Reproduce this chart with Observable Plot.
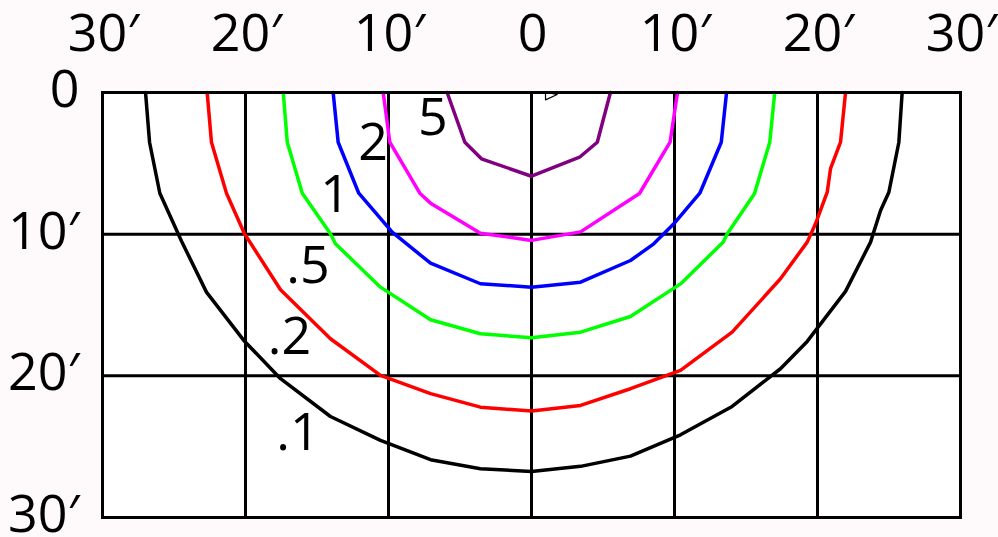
<!DOCTYPE html>
<html><head><meta charset="utf-8">
<script src="https://cdn.jsdelivr.net/npm/d3@7"></script>
<script src="https://cdn.jsdelivr.net/npm/@observablehq/plot@0.6"></script>
<style>html,body{margin:0;padding:0;background:#fefafc;} svg{display:block}</style>
</head><body><div id="chart"></div>
<script>
// Axis ticks (arc-minutes)
const xTicks = [-30, -20, -10, 0, 10, 20, 30];
const xTickLabels = ["30′", "20′", "10′", "0", "10′", "20′", "30′"];
const yTicks = [0, 10, 20, 30];
const yTickLabels = ["0", "10′", "20′", "30′"];
const gridXValues = [-20, -10, 0, 10, 20];
const gridYValues = [10, 20];

// Contour levels
const levels = [".1", ".2", ".5", "1", "2", "5"];

// Contour .1
const c01X = [-26.99,-26.71,-25.99,-24.48,-22.73,-20.12,-17.55,-14.06,-10.56,-7.06,-3.57,0,3.43,6.92,10.42,14.03,17.41,19.28,21.96,23.71,24.41,24.99,25.69,25.92];
const c01Y = [0,3.51,7.11,10.48,14.09,17.5,20.2,22.87,24.56,25.92,26.56,26.75,26.39,25.67,24.16,22.16,19.5,17.57,14.04,10.56,8.33,7.04,3.51,0];
// Contour .2
const c02X = [-22.68,-22.38,-21.33,-20.07,-17.55,-14.06,-10.56,-7.06,-3.57,0,3.43,6.92,10.42,14.03,17.41,19.28,19.86,20.68,20.91,21.61,21.96];
const c02Y = [0,3.51,7.11,9.97,13.92,17.38,19.97,21.26,22.21,22.49,22.09,20.91,19.62,16.92,13.15,10.56,9.27,7.04,5.38,3.51,0];
// Contour .5
const c05X = [-17.36,-17.08,-16.03,-14.06,-13.71,-10.56,-7.06,-3.57,0,3.43,6.92,10.42,13.41,13.69,15.59,16.66,17.01];
const c05Y = [0,3.51,7.11,9.97,10.68,13.74,16.04,17.03,17.31,16.92,15.81,13.51,10.56,9.97,7.15,3.51,0];
// Contour 1
const c1X = [-13.87,-13.52,-12.08,-9.74,-7.06,-3.57,0,3.43,6.92,8.55,9.95,11.77,13.27,13.64];
const c1Y = [0,3.51,7.11,9.86,12.05,13.5,13.74,13.39,11.86,10.68,9.27,7.11,3.51,0];
// Contour 2
const c2X = [-10.37,-9.91,-7.81,-7.06,-3.57,0,3.43,7.55,9.69,10.21];
const c2Y = [0,3.51,7.11,7.81,9.93,10.44,9.84,7.13,3.51,0];
// Contour 5
const c5X = [-5.9,-4.66,-3.5,0,3.36,4.6,5.52];
const c5Y = [0,3.51,4.68,5.91,4.57,3.51,0];
// small innermost fragment at the top
const cTopX = [0.98, 0.98, 1.8, 0.98];
const cTopY = [0, 0.52, 0.14, 0];

// Contour labels
const labelText = [".1", ".2", ".5", "1", "2", "5"];
const labelX = [-16.33, -16.92, -15.63, -13.74, -11.08, -6.89];
const labelY = [24.03, 17.29, 12.28, 7.27, 3.56, 1.8];

// Styles
const levelColors = ["#000000", "#ff0000", "#00ff00", "#0000ff", "#ff00ff", "#800080"];

const curveXs = [c01X, c02X, c05X, c1X, c2X, c5X];
const curveYs = [c01Y, c02Y, c05Y, c1Y, c2Y, c5Y];
const toRows = (xs, ys) => xs.map((x, i) => ({x, y: ys[i]}));
const labels = labelText.map((t, i) => ({t, x: labelX[i], y: labelY[i]}));

const FONT = "Open Sans, Noto Sans, sans-serif";

const chart = Plot.plot({
  width: 998,
  height: 537,
  marginLeft: 102,
  marginRight: 38,
  marginTop: 92,
  marginBottom: 20,
  x: {domain: [-30, 30]},
  y: {domain: [0, 30], reverse: true},
  style: {fontFamily: FONT, background: "transparent", color: "black", overflow: "visible"},
  marks: [
    Plot.frame({fill: "white", stroke: "none"}),
    Plot.ruleX(gridXValues, {stroke: "black", strokeWidth: 3}),
    Plot.ruleY(gridYValues, {stroke: "black", strokeWidth: 3}),
    ...levels.map((lv, k) => Plot.line(toRows(curveXs[k], curveYs[k]), {
      x: "x", y: "y", stroke: levelColors[k], strokeWidth: 3.5, strokeLinejoin: "miter"
    })),
    Plot.line(toRows(cTopX, cTopY), {x: "x", y: "y", stroke: "black", strokeWidth: 1.2}),
    Plot.frame({stroke: "black", strokeWidth: 3}),
    Plot.text(labels, {x: "x", y: "y", text: "t", fontSize: 52, fill: "black", fontFamily: FONT}),
    Plot.axisX(xTicks, {
      anchor: "top", tickSize: 0, tickPadding: 42, fontSize: 52, dx: 1, label: null,
      tickFormat: d => xTickLabels[xTicks.indexOf(d)], fill: "black"
    }),
    Plot.axisY(yTicks, {
      anchor: "left", tickSize: 0, tickPadding: 23, fontSize: 52, dy: -2, label: null,
      tickFormat: d => yTickLabels[yTicks.indexOf(d)], fill: "black"
    })
  ]
});
document.getElementById("chart").appendChild(chart);
</script>
</body></html>
